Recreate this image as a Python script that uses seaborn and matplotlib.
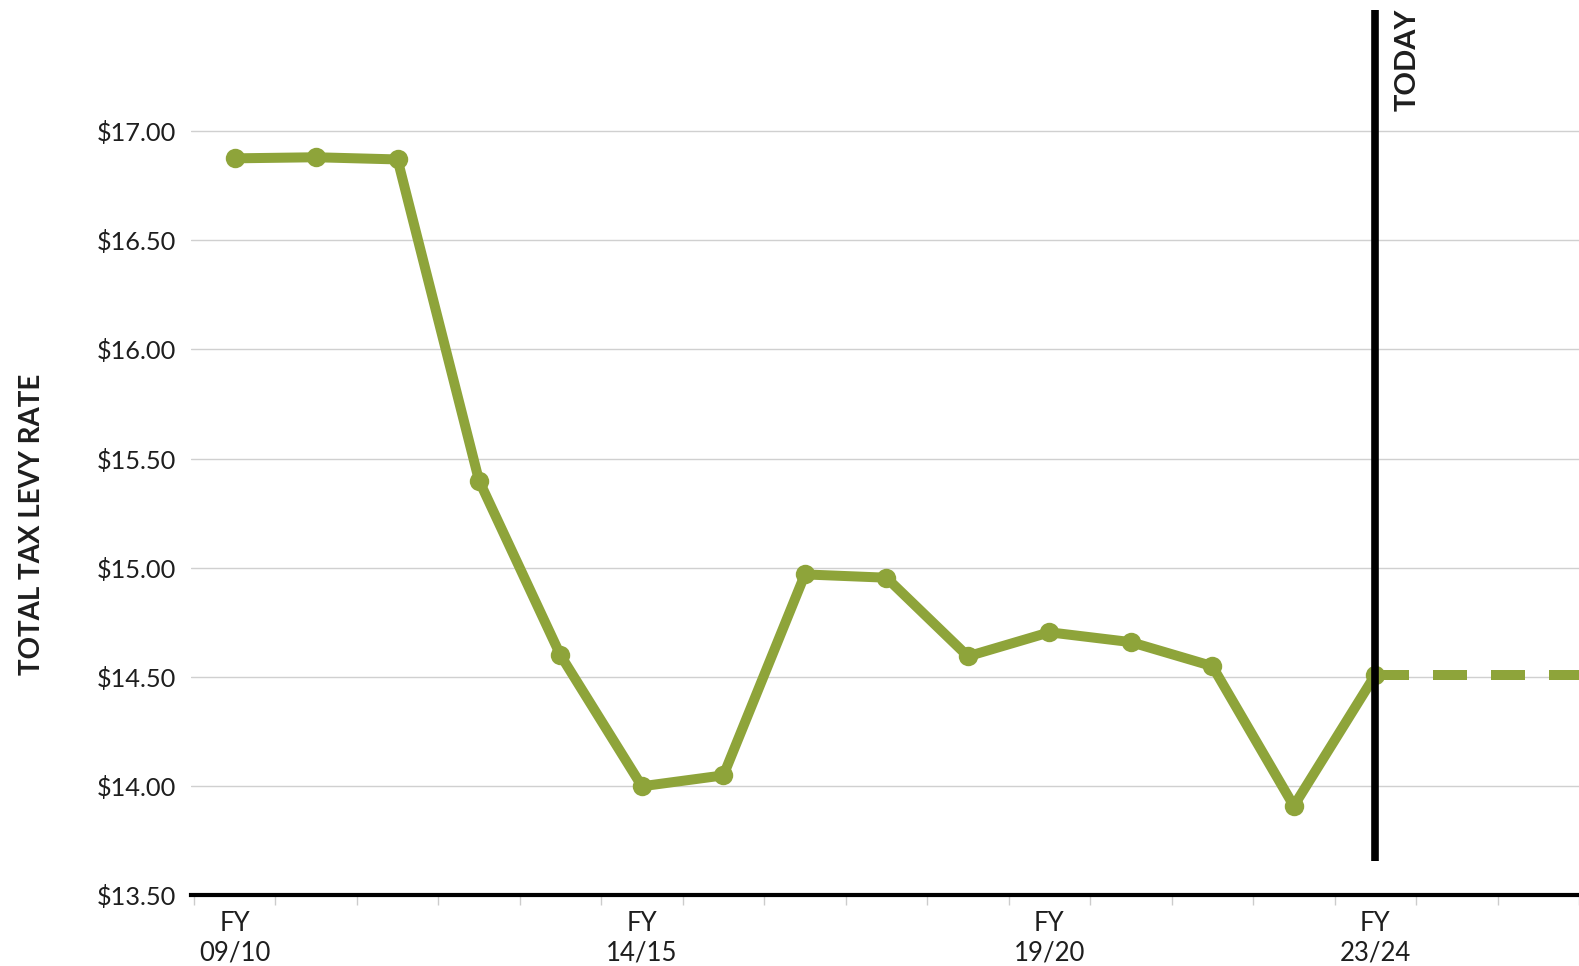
import numpy as np
import pandas as pd
import matplotlib
matplotlib.use("Agg")
import matplotlib.pyplot as plt
import seaborn as sns

# Values
years = ["09/10", "10/11", "11/12", "12/13", "13/14", "14/15", "15/16", "16/17",
         "17/18", "18/19", "19/20", "20/21", "21/22", "22/23", "23/24"]
rates = [16.875, 16.88, 16.87, 15.40, 14.60, 14.00, 14.05, 14.97,
         14.955, 14.595, 14.705, 14.66, 14.55, 13.91, 14.51]

# projection after today (flat)
forecast_idx = [14, 15, 16, 17]
forecast_rates = [14.51, 14.51, 14.51, 14.51]

labelled_years = ["09/10", "14/15", "19/20", "23/24"]
y_ticks = [13.5, 14.0, 14.5, 15.0, 15.5, 16.0, 16.5, 17.0]

df = pd.DataFrame({"idx": np.arange(len(years)), "year": years, "rate": rates})
fc = pd.DataFrame({"idx": forecast_idx, "rate": forecast_rates})

sns.set_style("white")
plt.rcParams["font.family"] = ["Lato", "DejaVu Sans"]

green = "#8ea43a"
ink = "#1e1e1e"

fig = plt.figure(figsize=(15.79, 9.66), dpi=100)
ax = fig.add_axes([0.121, 0.073, 0.879, 0.927])

for y in y_ticks[1:]:
    ax.axhline(y, color="#d0d0d0", lw=1.0, zorder=0)

sns.lineplot(data=fc, x="idx", y="rate", ax=ax, color=green, lw=7.2,
             dashes=False, linestyle=(0, (3.4, 2.4)), zorder=2)
sns.lineplot(data=df, x="idx", y="rate", ax=ax, color=green, lw=7.2,
             marker="o", markersize=14, markeredgewidth=0, zorder=3)

today = years.index("23/24")
ax.vlines(today, 13.66, 17.555, color="black", lw=5.5, zorder=4)
ax.text(today + 0.24, 17.56, "TODAY", rotation=90, ha="left", va="top",
        fontsize=21, fontweight="bold", color=ink)

ax.set_xlim(-0.534, 16.42)
ax.set_ylim(13.5, 17.6)

ax.set_yticks(y_ticks)
ax.set_yticklabels(["${:.2f}".format(v) for v in y_ticks], fontsize=18.3, color=ink)
ax.tick_params(axis="y", length=0, pad=11)

ax.set_xticks([years.index(y) for y in labelled_years])
ax.set_xticklabels(["FY\n" + y for y in labelled_years], fontsize=18.5,
                   color=ink, linespacing=1.25)
ax.set_xticks(np.arange(-0.5, 17, 1.0), minor=True)
ax.tick_params(axis="x", which="major", length=0, pad=11)
ax.tick_params(axis="x", which="minor", length=7, width=1, color="#cccccc",
               direction="out", bottom=True)

ax.set_xlabel("")
ax.set_ylabel("TOTAL TAX LEVY RATE", fontsize=20, fontweight="bold", color=ink)
ax.yaxis.set_label_coords(-0.105, 0.415)

sns.despine(ax=ax, left=True, top=True, right=True)
ax.spines["bottom"].set_color("black")
ax.spines["bottom"].set_linewidth(3)

fig.savefig("out.png", dpi=100)
